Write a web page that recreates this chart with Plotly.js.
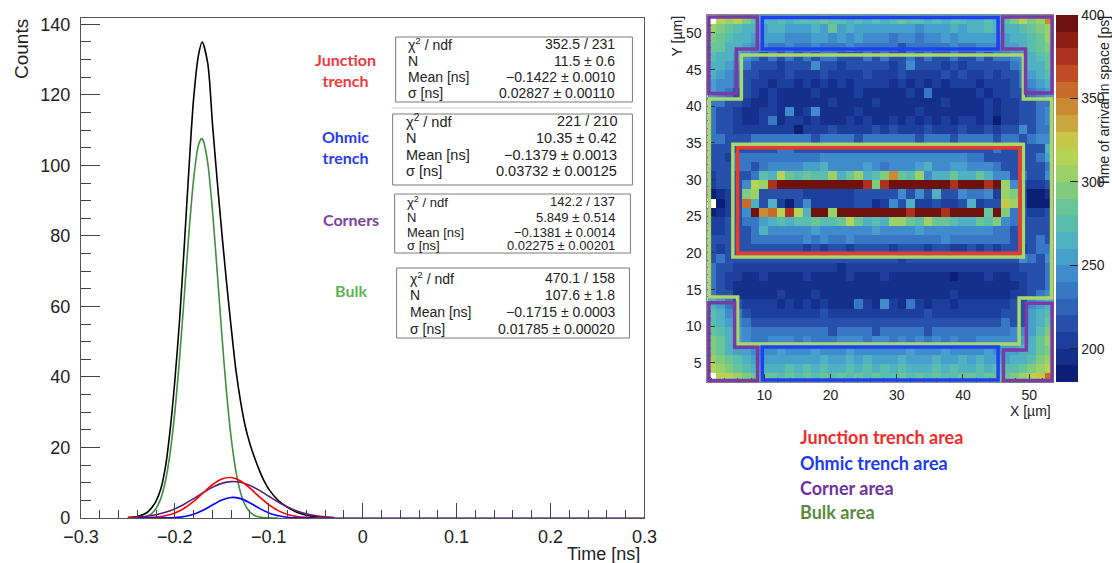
<!DOCTYPE html>
<html>
<head>
<meta charset="utf-8">
<script src="https://cdn.plot.ly/plotly-3.0.1.min.js"></script>
<style>html,body{margin:0;padding:0;background:#fff;}#chart{width:1112px;height:563px;}</style>
</head>
<body>
<div id="chart"></div>
<script>
// ---------------- DATA ----------------
// Fitted curves
const blackX = [-0.25,-0.24,-0.23,-0.225,-0.22,-0.215,-0.21,-0.205,-0.2,-0.195,-0.19,-0.185,-0.18,-0.175,-0.171,-0.165,-0.16,-0.155,-0.15,-0.145,-0.14,-0.135,-0.13,-0.125,-0.12,-0.115,-0.11,-0.105,-0.1,-0.09,-0.08,-0.07,-0.06,-0.05,-0.04,-0.03];
const blackY = [0.1,0.4,1.5,2.8,4.8,8.2,14.5,25,39,56,77,99,119,131,135,129,112,96,81,67,54,42,33,26,21,17,13.5,10.5,8.2,5.0,3.0,1.6,0.8,0.35,0.12,0.04];
const bulkX = [-0.25,-0.24,-0.23,-0.225,-0.22,-0.215,-0.21,-0.205,-0.2,-0.195,-0.19,-0.185,-0.18,-0.175,-0.1715,-0.17,-0.165,-0.16,-0.155,-0.15,-0.145,-0.14,-0.135,-0.13,-0.125,-0.12,-0.115,-0.11,-0.1,-0.09];
const bulkY = [0.01,0.07,0.5,1.2,2.7,5.5,10.5,18.5,30.1,45.2,62.9,80.8,96.1,105.6,107.6,107.2,100.7,87.4,70.2,52.1,35.7,22.7,13.3,7.2,3.6,1.7,0.7,0.3,0.04,0.0];
const junctionX = [-0.25,-0.24,-0.23,-0.22,-0.21,-0.2,-0.19,-0.18,-0.17,-0.16,-0.15,-0.14,-0.13,-0.12,-0.11,-0.1,-0.09,-0.08,-0.07,-0.06,-0.05,-0.04];
const junctionY = [0.01,0.03,0.09,0.26,0.65,1.42,2.75,4.7,7.09,9.43,11.07,11.47,10.48,8.45,6.01,3.77,2.09,1.02,0.44,0.17,0.06,0.02];
const purpleX = [-0.25,-0.24,-0.23,-0.22,-0.21,-0.2,-0.19,-0.18,-0.17,-0.16,-0.15,-0.14,-0.13,-0.12,-0.11,-0.1,-0.09,-0.08,-0.07,-0.06,-0.05,-0.04,-0.03];
const purpleY = [0.11,0.25,0.49,0.92,1.6,2.59,3.91,5.48,7.15,8.69,9.82,10.33,10.12,9.23,7.83,6.18,4.54,3.11,1.98,1.17,0.65,0.33,0.16];
const purpleBaseX = [-0.03,0.3];
const purpleBaseY = [0,0];
const blueX = [-0.24,-0.23,-0.22,-0.21,-0.2,-0.19,-0.18,-0.17,-0.16,-0.15,-0.14,-0.13,-0.12,-0.11,-0.1,-0.09,-0.08,-0.07,-0.06,-0.05];
const blueY = [0,0,0.01,0.04,0.14,0.43,1.07,2.19,3.68,5.1,5.83,5.49,4.26,2.73,1.44,0.63,0.22,0.07,0.02,0];

// Fit statistics boxes
const statLabels = ['\u03c7<sup>2</sup> / ndf','N','Mean [ns]','\u03c3 [ns]'];
const statJunction = ['352.5 / 231','11.5 \u00b1 0.6','\u22120.1422 \u00b1 0.0010','0.02827 \u00b1 0.00110'];
const statOhmic    = ['221 / 210','10.35 \u00b1 0.42','\u22120.1379 \u00b1 0.0013','0.03732 \u00b1 0.00125'];
const statCorners  = ['142.2 / 137','5.849 \u00b1 0.514','\u22120.1381 \u00b1 0.0014','0.02275 \u00b1 0.00201'];
const statBulk     = ['470.1 / 158','107.6 \u00b1 1.8','\u22120.1715 \u00b1 0.0003','0.01785 \u00b1 0.00020'];
const regionNames  = ['Junction<br>trench','Ohmic<br>trench','Corners','Bulk'];
const legendNames  = ['Junction trench area','Ohmic trench area','Corner area','Bulk area'];

// Heat map: time of arrival [ps], read cell by cell as level codes; 40 rows x 40 cols, listed top to bottom
const levelValue = {'0':186,'1':196,'2':207,'3':219,'4':231,'5':242,'6':253,'7':263,'8':273,'9':283,'a':293,'b':303,'c':313,'d':325,'e':343,'f':355,'g':375,'h':395,'.':null};
const mapRowsTopDown = [
[".cbca87787","8889887878","7898878788","77878acabe"],
["ba98776776","6676967666","6666566676","77877789ab"],
["a987766665","5566565655","5455455656","666667789b"],
["9977655445","4454445444","4434444454","455566789a"],
["8776543434","3434433343","4334343343","3434455789"],
["7765433323","3353323333","3235333232","3333345779"],
["7654332223","2223222232","2232222323","2232334678"],
["6554322122","1212121222","2121212122","2122234567"],
["6543321211","1121111211","1112141111","1212233456"],
["4433211211","1111211112","1111111211","1121223344"],
["4332112215","1251111211","1111211111","1121223345"],
["4332112412","2121112121","1212121212","2120223345"],
["4332222222","0222322223","2322232223","2232335344"],
["4433344444","4434444344","4444344434","4443443455"],
["3333333344","3333333333","3333333333","3334333337"],
["3324444444","4445555555","5555555555","4433333346"],
["3334434555","5667555565","4555675566","5554333334"],
["23333487c9","8988b79b78","ae98b57797","7975534335"],
["23335cbghh","hhhhhhhhga","ghhhhhhhgh","hhghb53223"],
["0123ab3333","3222222333","3353537335","4452ba2001"],
[".023f73720","3522222331","2537223223","7233db2000"],
["01235hefcg","c7hhbhhhhh","hhhghhhghh","hh9ha43223"],
["2233446787","889889c978","7bb98b9987","798a543333"],
["2233347555","5565555556","5555655555","5554433333"],
["3333344444","4545445444","4444444544","4444433343"],
["3233333333","3232332333","3233323322","3232332344"],
["3433333333","3333333333","3323333333","3333335435"],
["4332222222","2222212222","2222222222","2222223334"],
["4322112111","1211112111","2111111101","1121122334"],
["4321111111","1111111111","1111111111","1111112334"],
["4331111121","1121111111","1111111121","1111122345"],
["7643222212","1212111421","5214212212","2222233567"],
["8754322222","2223222222","2222232222","2222333678"],
["8765433333","3333333333","3333333333","3333433679"],
["9876544444","4444344443","4444434444","444445568a"],
["a976544555","4544455545","5454545454","455555679b"],
["a976655565","5565556555","5556555655","556566779a"],
["ba98766666","6667667676","6676667667","67666778ab"],
["cba9877778","7878778787","8787778787","7878889abc"],
[".ccba99989","8989898989","8898989889","98999abcdf"]
];

// Colour palette bands (180 -> 400 ps, 10 ps per band)
const paletteBands = ['#0c1f74','#15308c','#1d3f9c','#2650aa','#2f63b8','#3877c3','#3f8bcb','#479fcc','#50b1c3','#5bbdad','#69c597','#80cb7e','#9bd168','#b5d455','#c8c646','#c9a73c','#c98a33','#c66b2b','#bf4c24','#ad321d','#8e1d14','#6d120e'];
const colorbarTicks = [200,250,300,350,400];

// ---------------- BUILD ----------------
const W = 1112, H = 563;
const px = v => v / W;
const py = v => 1 - v / H;

const zRows = mapRowsTopDown.map(r => r.join('').split('').map(ch => levelValue[ch]));
zRows.reverse(); // bottom row first

const cs = [];
paletteBands.forEach((c, i) => { cs.push([i / paletteBands.length, c]); cs.push([(i + 1) / paletteBands.length, c]); });

const lineW = 1.6;
const traces = [
  {x: blackX, y: blackY, type:'scatter', mode:'lines', line:{color:'#000000', width:lineW, shape:'spline', smoothing:0.8}, xaxis:'x', yaxis:'y', hoverinfo:'skip'},
  {x: bulkX, y: bulkY, type:'scatter', mode:'lines', line:{color:'#3f8f3f', width:lineW, shape:'spline', smoothing:0.8}, xaxis:'x', yaxis:'y', hoverinfo:'skip'},
  {x: purpleX, y: purpleY, type:'scatter', mode:'lines', line:{color:'#5e1f72', width:lineW, shape:'spline', smoothing:0.8}, xaxis:'x', yaxis:'y', hoverinfo:'skip'},
  {x: purpleBaseX, y: purpleBaseY, type:'scatter', mode:'lines', line:{color:'#7a3a95', width:lineW}, xaxis:'x', yaxis:'y', hoverinfo:'skip'},
  {x: junctionX, y: junctionY, type:'scatter', mode:'lines', line:{color:'#ff0000', width:lineW, shape:'spline', smoothing:0.8}, xaxis:'x', yaxis:'y', hoverinfo:'skip'},
  {x: blueX, y: blueY, type:'scatter', mode:'lines', line:{color:'#0000ff', width:lineW, shape:'spline', smoothing:0.8}, xaxis:'x', yaxis:'y', hoverinfo:'skip'},
  {type:'heatmap', z: zRows, x0: 1.4 + 1.305/2, dx: 1.305, y0: 2.4 + 1.251/2, dy: 1.251,
   xaxis:'x2', yaxis:'y2', zmin:180, zmax:400, zsmooth:false, colorscale: cs, hoverinfo:'skip',
   colorbar:{x: px(1056), xanchor:'left', y: py(15), yanchor:'top', len: 367/H, lenmode:'fraction',
     thickness:22, thicknessmode:'pixels', xpad:0, ypad:0, outlinewidth:0,
     tickvals: colorbarTicks, ticks:'inside', ticklen:8, tickcolor:'#222',
     tickfont:{family:'Liberation Sans, Arial, sans-serif', size:14, color:'#222'}}}
];

const tickFontL = {family:'Liberation Sans, Arial, sans-serif', size:18, color:'#222'};
const tickFontR = {family:'Liberation Sans, Arial, sans-serif', size:14, color:'#222'};
const statFont = {family:'Liberation Sans, Arial, sans-serif', size:14, color:'#222'};

const shapes = [];
const annotations = [];

// stat boxes
const statSets = [statJunction, statOhmic, statCorners, statBulk];
const boxGeom = [
  {x0:396, x1:633, y0:37,  y1:102, rows:[44,61,77,93],     lx:406, rx:618, fs:14},
  {x0:393, x1:633, y0:114, y1:185, rows:[121,138,155,171], lx:404, rx:620, fs:14.5},
  {x0:395, x1:631, y0:194, y1:253, rows:[202,217,232,246], lx:405, rx:618, fs:13},
  {x0:397, x1:630, y0:268, y1:338, rows:[278,295,312,329], lx:408, rx:618, fs:14}
];
boxGeom.forEach((b, i) => {
  shapes.push({type:'rect', xref:'paper', yref:'paper', x0:px(b.x0), x1:px(b.x1), y0:py(b.y0), y1:py(b.y1), line:{color:'#7a7a7a', width:1}, fillcolor:'rgba(255,255,255,0)'});
  b.rows.forEach((ry, j) => {
    annotations.push({xref:'paper', yref:'paper', x:px(b.lx), y:py(ry), xanchor:'left', yanchor:'middle', text:statLabels[j], showarrow:false, font:Object.assign({}, statFont, {size:b.fs})});
    annotations.push({xref:'paper', yref:'paper', x:px(b.rx), y:py(ry), xanchor:'right', yanchor:'middle', text:statSets[i][j], showarrow:false, font:Object.assign({}, statFont, {size:b.fs})});
  });
});
shapes.push({type:'line', xref:'paper', yref:'paper', x0:px(392), x1:px(633), y0:py(108), y1:py(108), line:{color:'#d0d0d0', width:1}});

// region labels (left panel)
const regionColors = ['#f03a3a','#2a3cf2','#7b3f9e','#5db451'];
const regionPos = [[346,70],[346,147],[351,219],[351,290]];
regionNames.forEach((t, i) => {
  annotations.push({xref:'paper', yref:'paper', x:px(regionPos[i][0]), y:py(regionPos[i][1]), xanchor:'center', yanchor:'middle', text:t, showarrow:false,
    font:{family:'Lato, Open Sans, sans-serif', size:16, weight:700, color:regionColors[i]}});
});

// legend lines under the map
const legendColors = ['#ef2b2b','#1d3cf0','#7030a0','#5a8a3c'];
const legendY = [437,463,488,512];
legendNames.forEach((t, i) => {
  annotations.push({xref:'paper', yref:'paper', x:px(799), y:py(legendY[i]), xanchor:'left', yanchor:'middle', text:t, showarrow:false,
    font:{family:'Lato, Open Sans, sans-serif', size:18, weight:700, color:legendColors[i]}});
});

// axis titles
annotations.push({xref:'paper', yref:'paper', x:px(22), y:py(17), xanchor:'center', yanchor:'top', textangle:-90, text:'Counts', showarrow:false, font:{family:'Liberation Sans, Arial, sans-serif', size:19, color:'#222'}});
annotations.push({xref:'paper', yref:'paper', x:px(643), y:py(554), xanchor:'right', yanchor:'middle', text:'Time [ns]', showarrow:false, font:{family:'Liberation Sans, Arial, sans-serif', size:18, color:'#222'}});
annotations.push({xref:'paper', yref:'paper', x:px(678), y:py(14), xanchor:'center', yanchor:'top', textangle:-90, text:'Y [\u00b5m]', showarrow:false, font:tickFontR});
annotations.push({xref:'paper', yref:'paper', x:px(1054), y:py(411), xanchor:'right', yanchor:'middle', text:'X [\u00b5m]', showarrow:false, font:tickFontR});
annotations.push({xref:'paper', yref:'paper', x:px(1105), y:py(14), xanchor:'center', yanchor:'top', textangle:-90, text:'Time of arrival in space [ps]', showarrow:false, font:tickFontR});

// region outlines on the map (pixel vertices)
const outlines = [
  {c:'#aad66a', p:[[742,55],[1024.3,55],[1024.3,99],[1052.5,99],[1052.5,298],[1020,298],[1020,344],[738.3,344],[738.3,297],[710,297],[710,99],[742,99]]},
  {c:'#aad66a', p:[[733.5,144.3],[1024.3,144.3],[1024.3,257],[733.5,257]]},
  {c:'#ec3a2a', p:[[738.3,147.7],[1020.7,147.7],[1020.7,253.3],[738.3,253.3]]},
  {c:'#7a3aa5', p:[[709.5,17],[758,17],[758,49],[737,49],[737,93.5],[709.5,93.5]]},
  {c:'#7a3aa5', p:[[1003.5,17],[1053,17],[1053,93],[1026.5,93],[1026.5,49],[1003.5,49]]},
  {c:'#7a3aa5', p:[[709.5,302.7],[735.3,302.7],[735.3,347.3],[758.3,347.3],[758.3,380.5],[709.5,380.5]]},
  {c:'#7a3aa5', p:[[1004.3,380.5],[1004.3,350],[1027.3,350],[1027.3,303.3],[1053,303.3],[1053,380.5]]},
  {c:'#1f3ff5', p:[[763,17.5],[999,17.5],[999,49],[763,49]]},
  {c:'#1f3ff5', p:[[763,347],[999,347],[999,380],[763,380]]}
];
outlines.forEach(o => {
  const path = o.p.map((v, i) => (i ? 'L' : 'M') + px(v[0]).toFixed(5) + ',' + py(v[1]).toFixed(5)).join(' ') + ' Z';
  shapes.push({type:'path', xref:'paper', yref:'paper', path: path, line:{color:o.c, width:3.5}, layer:'above'});
});

const layout = {
  width: W, height: H,
  margin:{l:0, r:0, t:0, b:0},
  paper_bgcolor:'#ffffff', plot_bgcolor:'#ffffff',
  showlegend:false,
  xaxis:{domain:[px(81), px(645)], anchor:'y', range:[-0.3,0.3], tick0:-0.3, dtick:0.1,
    ticks:'inside', ticklen:15, tickwidth:1, tickcolor:'#444',
    minor:{dtick:0.02, ticks:'inside', ticklen:8, tickcolor:'#444', tickwidth:1},
    showline:true, linecolor:'#555', linewidth:1, mirror:true, showgrid:false, zeroline:false,
    tickfont:tickFontL, ticklabelstandoff:2},
  yaxis:{domain:[py(518), py(18)], anchor:'x', range:[0,141.8], tick0:0, dtick:20,
    ticks:'inside', ticklen:19, tickwidth:1, tickcolor:'#444',
    minor:{dtick:5, ticks:'inside', ticklen:10, tickcolor:'#444', tickwidth:1},
    showline:true, linecolor:'#555', linewidth:1, mirror:true, showgrid:false, zeroline:false,
    tickfont:tickFontL, ticklabelstandoff:6},
  xaxis2:{domain:[px(708), px(1054)], anchor:'y2', range:[1.4,53.6], tick0:0, dtick:10,
    ticks:'inside', ticklen:8, tickcolor:'#333',
    minor:{dtick:2, ticks:'inside', ticklen:4, tickcolor:'#333'},
    showline:true, linecolor:'#888', linewidth:1, mirror:true, showgrid:false, zeroline:false,
    tickfont:tickFontR, ticklabelstandoff:0},
  yaxis2:{domain:[py(382), py(15)], anchor:'x2', range:[2.4,52.45], tick0:0, dtick:5,
    ticks:'inside', ticklen:8, tickcolor:'#333',
    minor:{dtick:1, ticks:'inside', ticklen:4, tickcolor:'#333'},
    showline:true, linecolor:'#888', linewidth:1, mirror:true, showgrid:false, zeroline:false,
    tickfont:tickFontR, ticklabelstandoff:2},
  shapes: shapes,
  annotations: annotations
};

Plotly.newPlot('chart', traces, layout, {displayModeBar:false, staticPlot:true});
</script>
</body>
</html>
